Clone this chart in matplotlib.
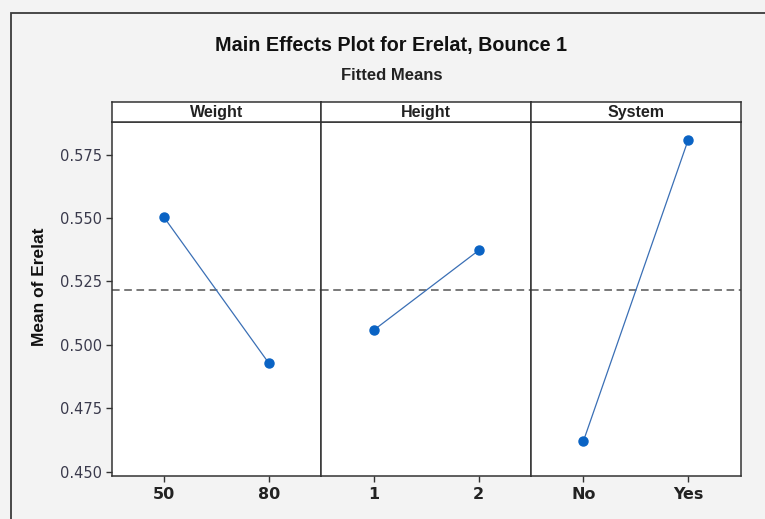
import matplotlib
matplotlib.use("Agg")
import matplotlib.pyplot as plt
from matplotlib.patches import Rectangle

# ── data ─────────────────────────────────────────────────────────────────────
factors = ["Weight", "Height", "System"]
levels = [["50", "80"], ["1", "2"], ["No", "Yes"]]
means = [[0.5502, 0.4927], [0.5058, 0.5372], [0.4621, 0.5809]]
grand_mean = 0.5215
y_ticks = [0.450, 0.475, 0.500, 0.525, 0.550, 0.575]

NARROW = ["Liberation Sans Narrow", "Liberation Sans", "DejaVu Sans"]
TICKFONT = ["DejaVu Sans"]
BG = "#f3f3f3"
BLUE = "#0a63c4"
LINE = "#3a6fb5"
TICKCOL = "#3a3a4c"

W, H = 765, 519
fig = plt.figure(figsize=(W / 100, H / 100), dpi=100, facecolor=BG)

# outer frame (only left and top edges visible in the crop)
x0, y0 = 10.5 / W, 1 - 13.5 / H
fig.add_artist(Rectangle((x0, -0.2), 2, y0 + 0.2, transform=fig.transFigure,
                         fill=False, lw=1.3, edgecolor="#3a3a3a"))

left, right = 111.7 / W, 740.7 / W
bottom, top = 1 - 476 / H, 1 - 122.3 / H
strip_h = 20.6 / H
pw = (right - left) / 3

fig.text(391.5 / W, 1 - 45 / H, "Main Effects Plot for Erelat, Bounce 1",
         ha="center", va="center", fontsize=14.2, fontweight="bold",
         family=NARROW, color="#111111")
fig.text(391.5 / W, 1 - 75.5 / H, "Fitted Means",
         ha="center", va="center", fontsize=12, fontweight="bold",
         family=NARROW, color="#222222")
fig.text(40 / W, 1 - 287 / H, "Mean of Erelat", rotation=90,
         ha="center", va="center", fontsize=12.5, fontweight="bold",
         family=NARROW, color="#111111")

for i, (name, lv, m) in enumerate(zip(factors, levels, means)):
    ax = fig.add_axes([left + i * pw, bottom, pw, top - bottom])
    ax.set_facecolor("white")
    x = list(range(len(lv)))
    ax.plot(x, m, color=LINE, lw=0.9, zorder=3)
    ax.plot(x, m, "o", color=BLUE, ms=6.5, zorder=4)
    ax.axhline(grand_mean, color="#555555", lw=1.1, ls=(0, (5, 3)), zorder=2)
    ax.set_xlim(-0.5, 1.5)
    ax.set_ylim(0.4483, 0.5877)
    ax.set_xticks(x)
    ax.set_xticklabels(lv, fontsize=11.5, fontweight="bold", family=TICKFONT,
                       color="#222222")
    ax.tick_params(axis="x", direction="out", length=4, width=1, pad=4,
                   color="#333333")
    for s in ax.spines.values():
        s.set_color("#333333")
        s.set_linewidth(1.1)
    if i == 0:
        ax.set_yticks(y_ticks)
        ax.set_yticklabels([f"{v:.3f}" for v in y_ticks], fontsize=10.5,
                           family=TICKFONT, color=TICKCOL)
        ax.tick_params(axis="y", direction="out", length=4, width=1, pad=3,
                       color="#333333")
    else:
        ax.set_yticks([])

    # facet strip
    sax = fig.add_axes([left + i * pw, top, pw, strip_h])
    sax.set_facecolor("white")
    sax.set_xticks([])
    sax.set_yticks([])
    for s in sax.spines.values():
        s.set_color("#333333")
        s.set_linewidth(1.1)
    sax.text(0.5, 0.5, name, ha="center", va="center", fontsize=11.5,
             fontweight="bold", family=NARROW, color="#222222",
             transform=sax.transAxes)

fig.savefig("out.png", dpi=100, facecolor=BG)
